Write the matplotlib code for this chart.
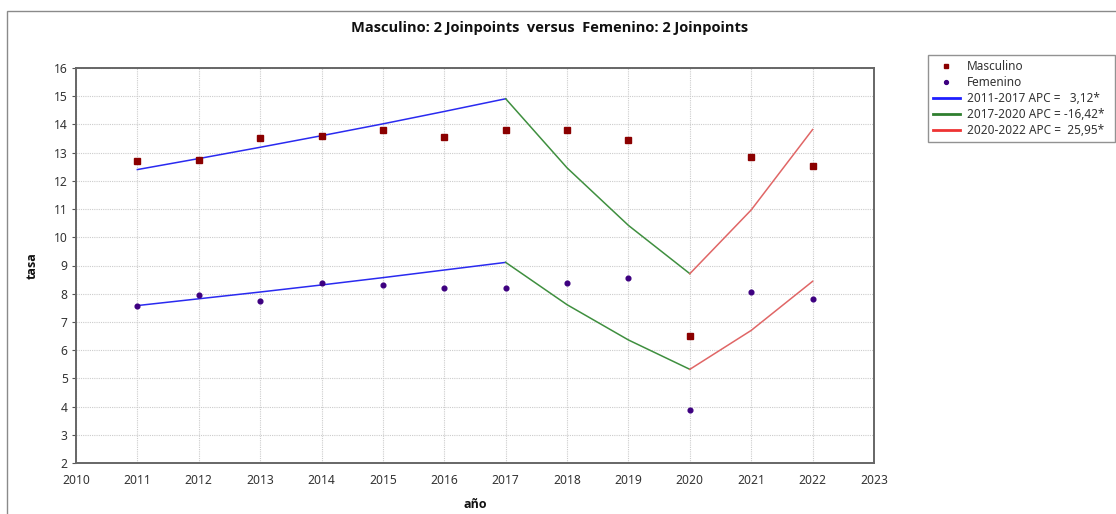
import matplotlib
matplotlib.use("Agg")
import matplotlib.pyplot as plt
from matplotlib.lines import Line2D
from matplotlib.patches import Rectangle

plt.rcParams['font.family'] = ['Noto Sans', 'DejaVu Sans']
BOLD_FAMILY = ['Open Sans', 'DejaVu Sans']

# Observed rates per year
years = [2011, 2012, 2013, 2014, 2015, 2016, 2017, 2018, 2019, 2020, 2021, 2022]
masculino = [12.71, 12.74, 13.52, 13.60, 13.81, 13.55, 13.79, 13.80, 13.45, 6.50, 12.86, 12.51]
femenino = [7.55, 7.96, 7.75, 8.38, 8.32, 8.21, 8.20, 8.38, 8.56, 3.89, 8.06, 7.81]

# Joinpoint fitted values, per segment
seg1_years = [2011, 2012, 2013, 2014, 2015, 2016, 2017]
seg2_years = [2017, 2018, 2019, 2020]
seg3_years = [2020, 2021, 2022]
masc_fit1 = [12.40, 12.79, 13.19, 13.60, 14.02, 14.46, 14.91]
masc_fit2 = [14.91, 12.46, 10.42, 8.71]
masc_fit3 = [8.71, 10.97, 13.82]
fem_fit1 = [7.58, 7.82, 8.06, 8.31, 8.57, 8.84, 9.11]
fem_fit2 = [9.11, 7.61, 6.36, 5.32]
fem_fit3 = [5.32, 6.70, 8.44]

segment_labels = ["2011-2017 APC =   3,12*", "2017-2020 APC = -16,42*", "2020-2022 APC =  25,95*"]
x_ticks = list(range(2010, 2024))
y_ticks = list(range(2, 17))

W, H = 1116, 514
fig = plt.figure(figsize=(W / 100, H / 100), dpi=100)
fig.patch.set_facecolor('white')

# outer frame of the chart panel
fig.patches.append(Rectangle((7 / W, -0.1), 1.2, 1 - 11 / H + 0.1, transform=fig.transFigure,
                             fill=False, edgecolor='#8a8a8a', linewidth=1.0, zorder=0))

ax = fig.add_axes([76 / W, 1 - 463 / H, (874 - 76) / W, (463 - 68) / H])

c_blue = '#2a2af0'
c_green = '#3f8f3f'
c_red = '#e06666'
c_masc = '#8b0000'
c_fem = '#3d0080'

for fit1, fit2, fit3 in [(masc_fit1, masc_fit2, masc_fit3), (fem_fit1, fem_fit2, fem_fit3)]:
    ax.plot(seg1_years, fit1, color=c_blue, lw=1.1, zorder=3)
    ax.plot(seg2_years, fit2, color=c_green, lw=1.1, zorder=3)
    ax.plot(seg3_years, fit3, color=c_red, lw=1.1, zorder=3)

ax.plot(years, masculino, linestyle='none', marker='s', markersize=4.6,
        color=c_masc, zorder=4)
ax.plot(years, femenino, linestyle='none', marker='o', markersize=3.4,
        color=c_fem, zorder=4)

ax.set_xlim(2010, 2023)
ax.set_ylim(2, 16)
ax.set_xticks(x_ticks)
ax.set_yticks(y_ticks)
ax.tick_params(axis='both', labelsize=8.7, labelcolor='#333333', color='#555555',
               length=3, width=0.8, pad=3)
ax.tick_params(axis='x', length=0, pad=8)
ax.grid(True, color='#cccccc', linestyle=(0, (1, 1)), linewidth=0.8, zorder=0)
for s in ax.spines.values():
    s.set_color('#666666')
    s.set_linewidth(1.4)

ax.set_xlabel('año', fontsize=9, fontweight='bold', family=BOLD_FAMILY,
              color='#111111', labelpad=8)
ax.set_ylabel('tasa', fontsize=9, fontweight='bold', family=BOLD_FAMILY,
              color='#111111', labelpad=11)

fig.text(550 / W, 1 - 28 / H, 'Masculino: 2 Joinpoints  versus  Femenino: 2 Joinpoints',
         ha='center', va='center', fontsize=10.5, fontweight='bold', family=BOLD_FAMILY,
         color='#111111')

handles = [
    Line2D([], [], linestyle='none', marker='s', markersize=3.5, color=c_masc),
    Line2D([], [], linestyle='none', marker='o', markersize=2.8, color=c_fem),
    Line2D([], [], color='#1f1fff', lw=2),
    Line2D([], [], color='#2f7f2f', lw=2),
    Line2D([], [], color='#ee3333', lw=2),
]
labels = ['Masculino', 'Femenino'] + segment_labels
leg = fig.legend(handles, labels, loc='upper left',
                 bbox_to_anchor=(928 / W, 1 - 55 / H, (1115 - 928) / W, 0.0),
                 mode='expand', borderaxespad=0, frameon=True, fancybox=False,
                 edgecolor='#777777', fontsize=8.5, handlelength=2.3, handletextpad=0.6,
                 labelspacing=0.27, borderpad=0.4)
leg.get_frame().set_linewidth(1.0)
for t in leg.get_texts():
    t.set_color('#333333')

fig.savefig('out.png', dpi=100)
